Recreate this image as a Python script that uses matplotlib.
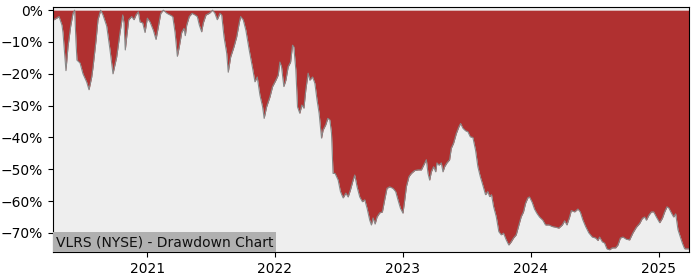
import numpy as np
import pandas as pd
import matplotlib
matplotlib.use("Agg")
from matplotlib import pyplot as plt
import matplotlib.dates as mdates
from matplotlib.ticker import PercentFormatter

title = "VLRS (NYSE) - Drawdown Chart"

# time as decimal years, drawdown in percent
years = [
    2020.266, 2020.273, 2020.295, 2020.313, 2020.336, 2020.344, 2020.367, 2020.383, 2020.404, 2020.422,
    2020.435, 2020.445, 2020.453, 2020.477, 2020.500, 2020.529, 2020.547, 2020.568, 2020.578, 2020.602,
    2020.617, 2020.638, 2020.656, 2020.685, 2020.711, 2020.734, 2020.763, 2020.789, 2020.810, 2020.820,
    2020.830, 2020.841, 2020.857, 2020.880, 2020.898, 2020.914, 2020.932, 2020.945, 2020.966, 2020.984,
    2021.002, 2021.023, 2021.049, 2021.070, 2021.088, 2021.107, 2021.127,
    2021.156, 2021.180, 2021.201, 2021.219, 2021.237, 2021.252, 2021.271, 2021.289, 2021.299, 2021.310,
    2021.330, 2021.352, 2021.375, 2021.393, 2021.409, 2021.427, 2021.440, 2021.461, 2021.487, 2021.513,
    2021.531, 2021.549, 2021.570, 2021.584, 2021.602, 2021.623, 2021.635, 2021.654, 2021.680, 2021.701,
    2021.721, 2021.732, 2021.752, 2021.773, 2021.799, 2021.826, 2021.844, 2021.862, 2021.883, 2021.904,
    2021.916, 2021.935,
    2021.961, 2021.982, 2022.008, 2022.026, 2022.039, 2022.052, 2022.070, 2022.086, 2022.104, 2022.123,
    2022.138, 2022.148, 2022.164, 2022.177, 2022.195, 2022.211, 2022.227, 2022.242, 2022.260, 2022.273,
    2022.295, 2022.313, 2022.330, 2022.346, 2022.365, 2022.377, 2022.398, 2022.414, 2022.430, 2022.443,
    2022.455, 2022.471, 2022.495, 2022.513, 2022.534, 2022.555, 2022.573, 2022.591, 2022.612, 2022.625,
    2022.643, 2022.664, 2022.685, 2022.703, 2022.721, 2022.742, 2022.755, 2022.768, 2022.784, 2022.799,
    2022.820, 2022.841, 2022.859, 2022.877, 2022.898, 2022.924, 2022.945, 2022.963,
    2022.982, 2023.002, 2023.016, 2023.029, 2023.049, 2023.068, 2023.094, 2023.120, 2023.146, 2023.164,
    2023.185, 2023.198, 2023.211, 2023.224, 2023.242, 2023.258, 2023.268, 2023.284, 2023.302, 2023.315,
    2023.328, 2023.346, 2023.367, 2023.380, 2023.398, 2023.420, 2023.440, 2023.453, 2023.471, 2023.492,
    2023.510, 2023.529, 2023.549, 2023.570, 2023.588, 2023.607, 2023.627, 2023.648, 2023.666, 2023.680,
    2023.695, 2023.711, 2023.732, 2023.752, 2023.771, 2023.789, 2023.810, 2023.830, 2023.849, 2023.867,
    2023.888, 2023.909, 2023.927, 2023.945, 2023.961, 2023.979,
    2023.992, 2024.013, 2024.031, 2024.049, 2024.070, 2024.096, 2024.117, 2024.143, 2024.170, 2024.195,
    2024.221, 2024.248, 2024.266, 2024.284, 2024.305, 2024.318, 2024.344, 2024.370, 2024.388, 2024.409,
    2024.430, 2024.455, 2024.482, 2024.508, 2024.526, 2024.539, 2024.560, 2024.578, 2024.596, 2024.617,
    2024.638, 2024.664, 2024.682, 2024.701, 2024.721, 2024.748, 2024.773, 2024.799, 2024.826, 2024.852,
    2024.873, 2024.891, 2024.904, 2024.924, 2024.943, 2024.961, 2024.982, 2025.008, 2025.029, 2025.047,
    2025.065, 2025.080, 2025.099, 2025.117, 2025.133, 2025.151, 2025.170, 2025.185, 2025.203, 2025.229,
    2025.234,
]

drawdown = [
    -3.0, -3.0, -2.5, -2.0, -4.7, -7.0, -19.0, -11.5, -5.0, -1.0,
    0.0, -9.5, -15.7, -16.6, -20.0, -22.6, -25.0, -21.0, -18.0, -9.4,
    -3.0, 0.0, -1.5, -5.0, -12.5, -20.0, -14.7, -7.0, -1.5, -4.0,
    -12.5, -8.4, -3.0, -2.0, -3.0, -1.5, -0.5, -3.7, -4.0, -7.0,
    -2.5, -3.7, -6.3, -9.2, -5.3, -1.0, 0.0,
    -1.0, -1.5, -2.0, -7.0, -14.5, -11.5, -7.0, -5.7, -8.0, -4.7,
    -2.0, -1.0, -1.5, -2.0, -4.7, -6.8, -4.0, -1.5, -1.0, 0.0,
    -1.0, -3.0, -1.0, -1.5, -8.4, -13.5, -19.5, -14.7, -11.5, -8.4,
    -4.0, -2.0, -3.0, -6.3, -12.5, -18.3, -22.5, -21.0, -26.7, -30.4,
    -34.0, -30.4,
    -27.3, -24.0, -22.0, -20.4, -16.3, -17.8, -24.0, -22.0, -17.8, -16.3,
    -11.0, -11.5, -18.8, -30.4, -32.4, -29.8, -30.8, -25.0, -19.8, -22.0,
    -21.0, -23.0, -28.3, -32.4, -40.2, -37.7, -36.0, -34.0, -34.5, -38.7,
    -51.3, -51.3, -53.4, -57.0, -59.0, -57.5, -58.7, -56.5, -53.4, -51.8,
    -55.5, -58.7, -60.2, -59.6, -62.2, -66.0, -67.5, -65.3, -67.2, -65.0,
    -63.7, -63.4, -59.6, -56.0, -55.5, -56.0, -57.0, -59.6,
    -62.2, -63.8, -59.6, -55.4, -52.3, -51.3, -50.4, -50.2, -50.2, -48.7,
    -47.0, -51.3, -53.4, -50.8, -49.2, -50.8, -48.0, -48.7, -48.0, -50.8,
    -49.2, -48.0, -47.0, -43.4, -41.8, -38.7, -36.6, -35.6, -37.1, -37.9,
    -38.2, -39.8, -40.0, -44.0, -49.2, -52.3, -55.0, -58.0, -57.0, -58.6,
    -58.0, -61.7, -64.9, -69.6, -70.6, -70.1, -72.2, -73.8, -72.8, -71.6,
    -70.6, -67.5, -64.9, -63.4, -60.7, -59.0,
    -58.7, -60.4, -62.5, -63.8, -65.0, -66.0, -67.5, -67.5, -68.0, -68.2,
    -68.5, -67.5, -66.2, -67.5, -65.0, -63.0, -63.4, -62.5, -63.4, -66.0,
    -68.0, -70.0, -71.3, -71.6, -72.4, -71.3, -72.8, -73.2, -75.0, -75.3,
    -74.7, -74.7, -73.8, -71.6, -71.3, -72.0, -72.2, -70.0, -68.2, -67.0,
    -65.4, -65.0, -66.0, -64.4, -63.4, -63.4, -65.0, -66.8, -65.4, -63.4,
    -61.8, -62.2, -63.7, -65.0, -64.0, -69.0, -71.3, -73.2, -75.0, -75.0,
    -75.0,
]


def to_date(y):
    yr = int(np.floor(y))
    start = pd.Timestamp(year=yr, month=1, day=1)
    days = (pd.Timestamp(year=yr + 1, month=1, day=1) - start).days
    return start + pd.Timedelta(days=(y - yr) * days)


dates = [to_date(y) for y in years]
dd = np.array(drawdown)

fig = plt.figure(figsize=(7, 2.8), dpi=100)
ax = fig.add_axes([0.0757, 0.1, 0.908, 0.875])
ax.set_facecolor("#eeeeee")

ax.fill_between(dates, dd, 0, color="#b03030", linewidth=0)
ax.plot(dates, dd, color="#888888", linewidth=0.8)

ax.set_xlim(dates[0], dates[-1])
ax.set_ylim(-76, 1)
ax.yaxis.set_major_formatter(PercentFormatter(xmax=100, decimals=0))
ax.xaxis.set_major_locator(mdates.YearLocator())
ax.xaxis.set_major_formatter(mdates.DateFormatter("%Y"))

ax.text(0.005, 0.012, title, transform=ax.transAxes, fontsize=10,
        ha="left", va="bottom", color="#111111",
        bbox=dict(facecolor="#b0b0b0", edgecolor="none", pad=2))

fig.savefig("out.png", dpi=100)
